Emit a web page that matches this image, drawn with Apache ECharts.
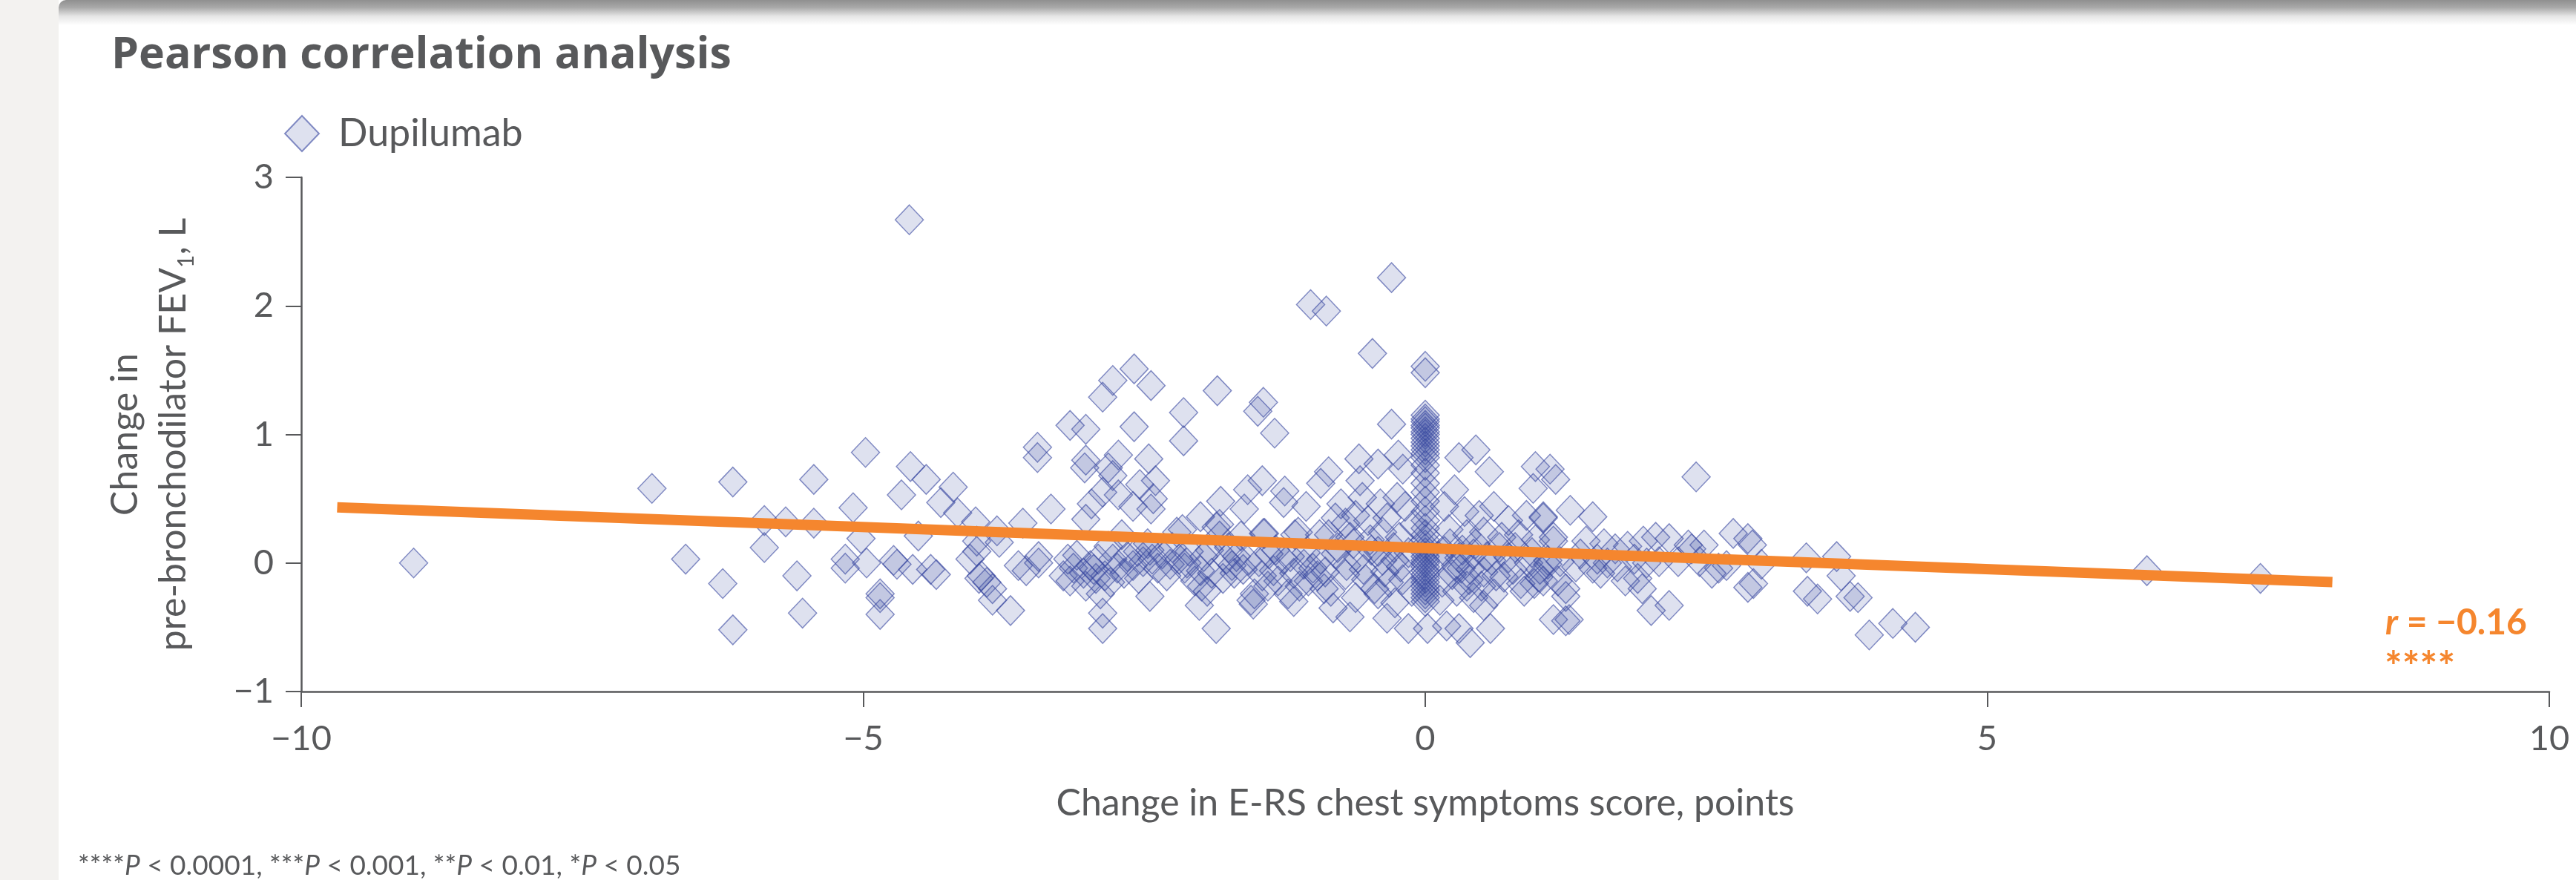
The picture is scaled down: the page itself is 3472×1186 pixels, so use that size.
<!DOCTYPE html>
<html><head><meta charset="utf-8">
<script src="https://cdn.jsdelivr.net/npm/echarts@6/dist/echarts.min.js"></script>
<style>
html,body{margin:0;padding:0;width:3472px;height:1186px;overflow:hidden;background:#fff;}
#side{position:absolute;left:0;top:0;width:79px;height:1186px;background:#f3f2f0;}
#shadow{position:absolute;left:79px;top:0;right:0;height:34px;background:linear-gradient(#8f8f8f 0px,#a8a8a8 10px,#e6e6e6 22px,#fff 34px);border-top-left-radius:10px;}
#chart{position:absolute;left:0;top:0;width:3472px;height:1186px;}
</style></head>
<body>
<div id="side"></div><div id="shadow"></div>
<div id="chart"></div>
<script>
// Axis ticks
const xTicks = [-10, -5, 0, 5, 10];
const yTicks = [-1, 0, 1, 2, 3];
const seriesName = 'Dupilumab';

// Points [change in E-RS chest symptoms score, change in FEV1 (L)]
const ersFarLeft = [[-9.00,0.00],[-6.88,0.58],[-6.58,0.03],[-6.25,-0.16],[-6.16,0.63],[-6.16,-0.52],[-5.88,0.33],[-5.88,0.12],[-5.69,0.32],[-5.59,-0.10],[-5.54,-0.39],[-5.44,0.65],[-5.44,0.31],[-5.16,0.03],[-5.16,-0.04],[-5.09,0.43],[-5.02,0.19],[-4.98,0.86],[-4.97,0.00],[-4.85,-0.24],[-4.85,-0.27],[-4.85,-0.40],[-4.73,0.02],[-4.70,-0.01],[-4.66,0.53],[-4.59,2.67],[-4.58,0.75],[-4.56,-0.05],[-4.51,0.21],[-4.44,0.65],[-4.40,-0.05],[-4.35,-0.09],[-4.31,0.47],[-4.20,0.59],[-4.16,0.39],[-4.05,0.03],[-4.00,0.32],[-3.99,0.09],[-3.99,0.17],[-3.97,-0.12],[-3.95,-0.10],[-3.90,-0.15],[-3.85,-0.20],[-3.85,-0.29],[-3.81,0.25],[-3.79,0.16],[-3.69,-0.37],[-3.62,-0.02],[-3.58,0.31],[-3.55,-0.06]];

const ersMidLeftUpper = [[-3.45,0.90],[-3.45,0.82],[-3.33,0.42],[-3.16,1.07],[-3.02,1.04],[-3.02,0.80],[-3.03,0.74],[-2.87,1.29],[-2.82,0.74],[-2.78,1.42],[-2.73,0.84],[-2.59,1.51],[-2.59,1.06],[-2.46,0.81],[-2.44,1.38],[-2.40,0.64],[-2.54,0.61],[-2.78,0.68],[-2.87,0.55],[-2.97,0.46],[-2.73,0.53],[-2.60,0.44],[-2.42,0.50],[-2.44,0.42],[-3.02,0.34],[-2.15,1.17],[-2.15,0.95],[-1.85,1.34],[-1.44,1.25],[-1.49,1.18],[-1.34,1.01],[-1.82,0.48],[-1.58,0.57],[-1.45,0.64],[-1.25,0.56],[-1.06,0.44],[-1.61,0.42],[-1.26,0.47],[-2.16,0.26],[-2.00,0.36],[-1.83,0.30],[-1.43,0.23],[-1.16,0.22],[-0.94,0.22],[-1.02,2.01],[-0.88,1.96]];

const ersMidLeftLower = [[-2.45,-0.26],[-2.87,-0.39],[-2.87,-0.51],[-1.86,-0.51],[-2.01,-0.33],[-1.53,-0.32],[-1.17,-0.30],[-3.44,0.05],[-3.44,0.00],[-3.22,-0.10]];

const ersMidLeftBand = [[-3.18,0.03],[-3.13,-0.04],[-3.16,-0.14],[-3.04,-0.08],[-3.02,-0.18],[-2.98,-0.02],[-2.93,-0.12],[-2.91,0.03],[-2.89,-0.24],[-2.85,-0.10],[-2.82,0.13],[-2.78,0.03],[-2.74,-0.04],[-2.70,0.22],[-2.65,0.05],[-2.60,-0.02],[-2.56,0.09],[-2.51,0.01],[-2.47,0.15],[-2.43,0.03],[-2.38,-0.04],[-2.34,0.07],[-2.27,-0.01],[-2.21,0.24],[-2.19,0.03],[-2.14,-0.04],[-2.10,0.09],[-2.05,-0.14],[-1.99,-0.18],[-1.97,0.05],[-1.94,-0.22],[-1.90,-0.08],[-1.86,0.28],[-1.83,0.21],[-1.77,0.03],[-1.72,-0.02],[-1.70,-0.08],[-1.68,0.05],[-1.64,0.21],[-1.55,-0.29],[-1.52,-0.24],[-1.48,0.01],[-1.44,0.23],[-1.39,0.07],[-1.35,-0.06],[-1.31,-0.14],[-1.26,0.03],[-1.22,-0.24],[-1.17,-0.08],[-1.13,0.24],[-1.08,-0.01],[-1.04,-0.14],[-1.00,-0.04],[-0.93,0.03],[-3.10,0.06],[-2.95,-0.05],[-2.80,-0.15],[-2.68,-0.08],[-2.55,-0.12],[-2.45,0.10],[-2.30,-0.10],[-2.25,0.12],[-2.12,0.00],[-2.00,-0.06],[-1.92,0.10],[-1.80,-0.12],[-1.75,0.12],[-1.62,-0.05],[-1.58,0.02],[-1.45,-0.10],[-1.40,-0.18],[-1.33,0.10],[-1.20,0.05],[-1.12,-0.18],[-1.06,0.08],[-0.96,-0.10]];

const ersCenter = [[-0.30,2.22],[-0.47,1.63],[0.00,1.53],[0.00,1.48],[-0.30,1.08],[-0.86,0.71],[-0.93,0.62],[-0.59,0.81],[-0.42,0.77],[-0.58,0.64],[-0.24,0.84],[-0.20,0.73],[-0.75,0.46],[-0.56,0.51],[-0.40,0.46],[-0.25,0.51],[-0.18,0.44],[-0.80,0.35],[-0.71,0.31],[-0.62,0.37],[-0.51,0.33],[-0.34,0.35],[-0.86,0.22],[-0.67,0.20],[-0.49,0.18],[-0.38,0.24],[-0.23,0.20],[-0.80,0.07],[-0.60,0.04],[-0.42,0.09],[-0.27,0.02],[-0.89,-0.07],[-0.71,-0.09],[-0.53,-0.13],[-0.36,-0.07],[-0.20,-0.13],[-0.84,-0.22],[-0.62,-0.27],[-0.42,-0.24],[-0.27,-0.31],[-0.82,-0.35],[-0.67,-0.42],[-0.34,-0.43],[-0.15,-0.51],[0.30,0.82],[0.45,0.88],[0.57,0.71],[0.26,0.57],[0.98,0.75],[1.11,0.73],[0.96,0.58],[0.17,0.44],[0.35,0.40],[0.48,0.37],[0.61,0.44],[0.74,0.33],[0.90,0.37],[1.05,0.35],[0.21,0.26],[0.37,0.22],[0.52,0.24],[0.68,0.20],[0.83,0.22],[0.98,0.18],[1.14,0.20],[0.17,0.09],[0.30,0.04],[0.43,0.07],[0.59,0.02],[0.74,0.04],[0.92,0.00],[1.09,0.02],[0.24,-0.09],[0.39,-0.13],[0.52,-0.07],[0.70,-0.11],[0.85,-0.16],[1.01,-0.11],[0.28,-0.22],[0.43,-0.27],[0.61,-0.24],[0.52,-0.33],[1.14,-0.44],[0.02,-0.51],[0.19,-0.49],[0.30,-0.51],[0.40,-0.62],[0.58,-0.51],[0.13,-0.29],[0.32,-0.04],[0.37,-0.18],[-0.78,0.12],[-0.70,-0.02],[-0.64,0.15],[-0.55,-0.05],[-0.48,0.10],[-0.45,-0.20],[-0.38,0.02],[-0.32,-0.15],[-0.28,0.12],[-0.22,-0.03],[-0.15,0.08],[-0.12,-0.22],[-0.10,0.30],[0.12,0.05],[0.15,-0.15],[0.22,0.15],[0.27,-0.02],[0.33,0.10],[0.40,-0.05],[0.45,0.15],[0.50,-0.18],[0.55,0.05],[0.63,-0.10],[0.66,0.12],[0.78,-0.05],[0.80,0.12],[0.88,-0.22],[0.95,0.08],[1.02,-0.05],[0.97,-0.16],[-0.90,-0.20]];

// Participants with no change in score (x = 0)
const ersZeroColumnY = [1.15,1.12,1.10,1.07,1.05,1.02,1.00,0.97,0.94,0.91,0.88,0.85,0.82,0.76,0.70,0.62,0.55,0.48,0.40,0.33,0.27,0.22,0.18,0.14,0.11,0.08,0.05,0.02,0.00,-0.03,-0.06,-0.09,-0.12,-0.15,-0.18,-0.21,-0.24,-0.27,-0.30];

const ersRight = [[1.16,0.65],[1.05,0.36],[1.29,0.41],[1.49,0.36],[2.41,0.67],[1.14,0.17],[1.43,0.17],[1.59,0.15],[1.69,0.11],[1.80,0.13],[1.94,0.17],[2.05,0.20],[2.17,0.19],[2.34,0.14],[2.48,0.14],[2.74,0.23],[2.87,0.19],[2.91,0.14],[3.39,0.04],[3.66,0.05],[3.70,-0.10],[3.40,-0.22],[3.49,-0.28],[3.78,-0.26],[2.87,-0.19],[2.92,-0.16],[2.61,-0.04],[2.68,-0.02],[2.25,0.01],[2.44,0.01],[2.99,-0.01],[1.93,-0.20],[2.01,-0.37],[2.17,-0.33],[1.25,-0.45],[1.28,-0.44],[1.25,-0.26],[1.25,-0.20],[1.78,-0.14],[1.89,-0.12],[1.56,-0.08],[1.09,-0.01],[1.20,0.01],[1.34,-0.03],[1.49,-0.04],[1.62,0.00],[1.71,-0.03],[1.86,0.03],[1.97,0.00],[2.08,0.01],[1.38,0.07],[1.53,0.03],[1.05,-0.14],[1.18,-0.14],[2.55,-0.08],[2.37,0.11],[3.85,-0.27],[3.95,-0.56],[4.16,-0.47],[4.36,-0.50],[6.42,-0.06],[7.43,-0.12]];

// Regression line endpoints
const trendX = [-9.68, 8.07];
const trendY = [0.433, -0.149];
const rLabel = '\u22120.16';
const footnoteText = '****{i|P} < 0.0001, ***{i|P} < 0.001, **{i|P} < 0.01, *{i|P} < 0.05';

const textColor = '#58595b';
const orange = '#F5862E';
const FONT = 'Lato';

const scatterData = [].concat(ersFarLeft, ersMidLeftUpper, ersMidLeftLower, ersMidLeftBand, ersCenter,
  ersZeroColumnY.map(y => [0, y]), ersRight);
const trendData = trendX.map((x, i) => [x, trendY[i]]);

const minusFmt = v => (v < 0 ? '\u2212' + Math.abs(v) : String(v));

const chart = echarts.init(document.getElementById('chart'), null, {renderer: 'canvas'});
chart.setOption({
  animation: false,
  title: {
    text: 'Pearson correlation analysis', left: 150, top: 46, padding: 0,
    textStyle: {fontFamily: 'Open Sans', fontWeight: 'bold', fontSize: 59, color: textColor}
  },
  legend: {
    data: [seriesName], left: 383, top: 154, padding: 0,
    itemWidth: 46, itemHeight: 48,
    textStyle: {fontFamily: FONT, fontSize: 52, color: textColor, padding: [0, 0, 0, 21]}
  },
  grid: {left: 406, top: 239, width: 3030, height: 693, outerBoundsMode: 'none'},
  xAxis: {
    type: 'value', min: xTicks[0], max: xTicks[xTicks.length - 1], interval: xTicks[1] - xTicks[0],
    name: 'Change in E-RS chest symptoms score, points', nameLocation: 'middle', nameGap: 126,
    nameTextStyle: {fontFamily: FONT, fontSize: 50, color: textColor},
    axisLine: {show: true, onZero: false, lineStyle: {color: textColor, width: 2.5}},
    axisTick: {show: true, length: 21, lineStyle: {color: textColor, width: 2}},
    axisLabel: {margin: 40, fontFamily: FONT, fontSize: 47, color: textColor, formatter: minusFmt, hideOverlap: false},
    splitLine: {show: false}
  },
  yAxis: {
    type: 'value', min: yTicks[0], max: yTicks[yTicks.length - 1], interval: yTicks[1] - yTicks[0],
    name: 'Change in\npre-bronchodilator FEV{sub|1}, L', nameLocation: 'middle', nameGap: 140, nameRotate: 90,
    nameTextStyle: {fontFamily: FONT, fontSize: 50, color: textColor, lineHeight: 65,
      rich: {sub: {fontFamily: FONT, fontSize: 30, color: textColor, verticalAlign: 'bottom', lineHeight: 65}}},
    axisLine: {show: true, onZero: false, lineStyle: {color: textColor, width: 2.5}},
    axisTick: {show: true, length: 21, lineStyle: {color: textColor, width: 2}},
    axisLabel: {margin: 37, fontFamily: FONT, fontSize: 47, color: textColor, formatter: minusFmt},
    splitLine: {show: false}
  },
  series: [
    {
      name: seriesName, type: 'scatter', symbol: 'diamond', symbolSize: [38, 40],
      data: scatterData, z: 2,
      itemStyle: {color: 'rgba(62,76,160,0.17)', borderColor: 'rgba(55,70,160,0.6)', borderWidth: 1.5, opacity: 1},
      emphasis: {disabled: true}
    },
    {
      name: 'trend', type: 'line', data: trendData, symbol: 'none', z: 5, silent: true,
      lineStyle: {color: orange, width: 14, cap: 'butt'}
    }
  ],
  graphic: [
    {type: 'text', left: 3215, top: 816, z: 10,
      style: {text: '{i|r} = ' + rLabel, fontFamily: FONT, fontWeight: 'bold', fontSize: 48, fill: orange,
        rich: {i: {fontFamily: FONT, fontWeight: 'bold', fontStyle: 'italic', fontSize: 48, fill: orange}}}},
    {type: 'text', left: 3214, top: 872, z: 10,
      style: {text: '****', fontFamily: FONT, fontWeight: 'bold', fontSize: 56, fill: orange}},
    {type: 'text', left: 105, top: 1149, z: 10,
      style: {text: footnoteText, fontFamily: FONT, fontSize: 37, fill: textColor,
        rich: {i: {fontFamily: FONT, fontStyle: 'italic', fontSize: 37, fill: textColor}}}}
  ]
});
</script>
</body></html>
